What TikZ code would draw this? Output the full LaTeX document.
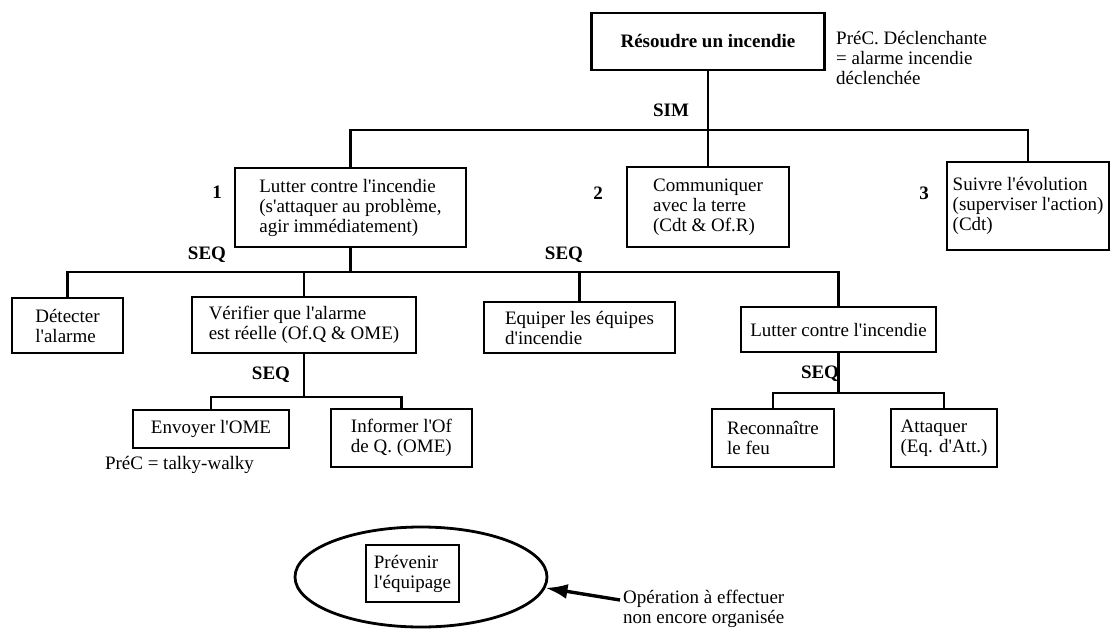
\documentclass[tikz,border=0pt]{standalone}
\usepackage{fontspec}
\setmainfont{Liberation Serif}[Ligatures=TeXOff]
\usepackage{tikz}
\usetikzlibrary{shapes.geometric,arrows.meta,positioning}

\begin{document}
\begin{tikzpicture}[
    x=1pt, y=-1pt,
    tache/.style={rectangle, draw, line width=2.4pt, align=left, inner sep=3pt, font=\fontsize{19}{20}\selectfont},
    oper/.style={font=\fontsize{19}{20}\selectfont\bfseries},
    note/.style={align=left, inner sep=3pt, font=\fontsize{19}{20}\selectfont},
    lien/.style={line width=2.8pt},
    fleche/.style={line width=3.4pt, -{Latex[length=22pt, width=15pt]}}
]

\useasboundingbox (0,0) rectangle (1111,629);

% Root
\node[tache, font=\fontsize{19}{20}\selectfont\bfseries, minimum width=233pt, minimum height=57pt] (racine) at (708,41.5) {Résoudre un incendie};
\node[note, anchor=north west] (declenche) at (833,28) {PréC. Déclenchante\\= alarme incendie\\déclenchée};
\node[oper] (sim) at (671,110) {SIM};

% Level 1
\node[tache, minimum width=231pt, minimum height=79pt] (lutter) at (350.5,207.5) {Lutter contre l'incendie\\(s'attaquer au problème,\\agir immédiatement)};
\node[tache, minimum width=162pt, minimum height=80pt] (communiquer) at (708,207) {Communiquer\\avec la terre\\(Cdt \& Of.R)};
\node[tache, minimum width=162pt, minimum height=88pt] (suivre) at (1028,206) {Suivre l'évolution\\(superviser l'action)\\(Cdt)};
\node[oper] (num1) at (217,192) {1};
\node[oper] (num2) at (598,193) {2};
\node[oper] (num3) at (924,193) {3};

\coordinate (barsim) at (708,130);
\draw[lien] (racine) -- (communiquer);
\draw[lien] (lutter.north) |- (barsim) -| (suivre.north);

% Level 2
\node[tache, minimum width=111pt, minimum height=55pt] (detecter) at (67.5,325.5) {Détecter\\l'alarme};
\node[tache, minimum width=224pt, minimum height=56pt] (verifier) at (304,325) {Vérifier que l'alarme\\est réelle (Of.Q \& OME)};
\node[tache, minimum width=191pt, minimum height=51pt] (equiper) at (579.5,327.5) {Equiper les équipes\\d'incendie};
\node[tache, minimum width=195pt, minimum height=45pt] (lutterfeu) at (838.5,329.5) {Lutter contre l'incendie};
\node[oper] (seqa) at (207,255) {SEQ};
\node[oper] (seqb) at (564,255) {SEQ};

\coordinate (barseq) at (350.5,272);
\draw[lien] (lutter) -- (barseq);
\draw[lien] (detecter.north) |- (barseq) -| (lutterfeu.north);
\draw[lien] (verifier.north) -- (verifier.north |- barseq);
\draw[lien] (equiper.north) -- (equiper.north |- barseq);

% Level 3
\node[tache, minimum width=156pt, minimum height=38pt] (envoyer) at (211,429) {Envoyer l'OME};
\node[tache, minimum width=141pt, minimum height=58pt] (informer) at (401.5,438) {Informer l'Of\\de Q. (OME)};
\node[note] (talky) at (179.5,465) {PréC = talky-walky};
\node[oper] (seqc) at (271,375) {SEQ};

\coordinate (barverif) at (304,397);
\draw[lien] (verifier) -- (barverif);
\draw[lien] (envoyer.north) |- (barverif) -| (informer.north);

\node[tache, minimum width=122pt, minimum height=58pt] (reconnaitre) at (773,438) {Reconnaître\\le feu};
\node[tache, minimum width=106pt, minimum height=58pt] (attaquer) at (944,438) {Attaquer\\(Eq. d'Att.)};
\node[oper] (seqd) at (820,374) {SEQ};

\coordinate (barfeu) at (838.5,393);
\draw[lien] (lutterfeu) -- (barfeu);
\draw[lien] (reconnaitre.north) |- (barfeu) -| (attaquer.north);

% Legend
\node[ellipse, draw, line width=2.8pt, minimum width=252pt, minimum height=100pt] (ovale) at (421,577) {};
\node[tache, minimum width=93pt, minimum height=57pt] (prevenir) at (412.5,573.5) {Prévenir\\l'équipage};
\node[note, anchor=west] (operation) at (620,609) {Opération à effectuer\\non encore organisée};
\draw[fleche] ([yshift=9pt]operation.west) -- (ovale.-5);

\end{tikzpicture}
\end{document}
